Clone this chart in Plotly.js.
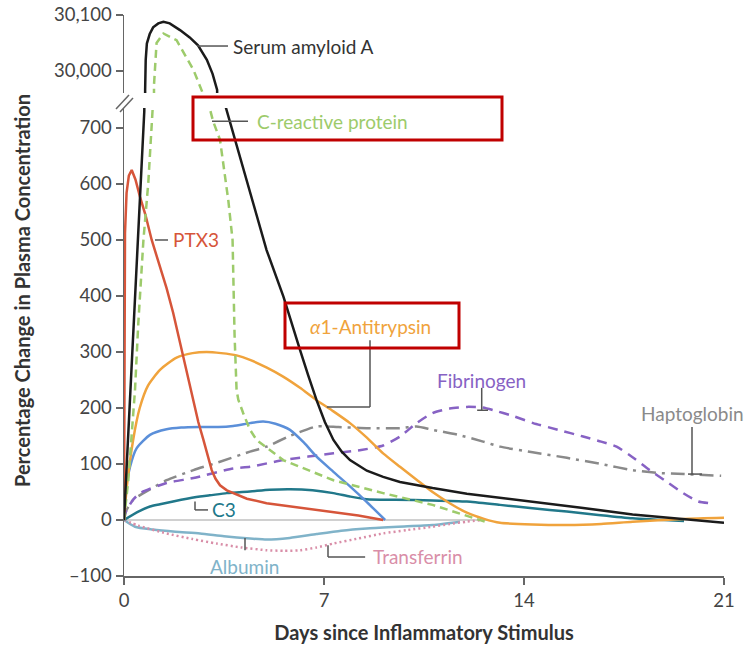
<!DOCTYPE html>
<html>
<head>
<meta charset="utf-8">
<script src="https://cdn.plot.ly/plotly-3.0.1.min.js"></script>
<style>html,body{margin:0;padding:0;background:#fff;}#chart{width:747px;height:649px;}</style>
</head>
<body>
<div id="chart"></div>
<script>
// ---- Data (days since stimulus, % change in plasma concentration) ----
var saaDays = [0,0.23,0.45,0.6,0.71,0.74,0.76,0.8,0.9,1.02,1.2,1.38,1.6,1.96,2.3,2.59,2.9,3.1,3.26,3.54,3.77,4.41,4.99,5.58,5.87,6.16,6.45,6.74,7.03,7.33,7.62,7.91,8.5,9.07,9.66,10.8,12,13.16,14.32,16,17.8,19.6,21];
var saaVals = [0,235,470,625,730,29966,30020,30049,30066,30078,30085,30088,30085,30073,30060,30046,30020,29995,29966,741,700,589,482,399,350,304,258,214,175,143,122,107,88,77,68,57,47,40,33,22,10,1,-5];

var crpDays = [0,0.15,0.385,0.5,0.68,0.85,1.0,1.05,1.14,1.38,1.84,2.43,2.65,2.8,2.95,3.12,3.36,3.65,3.8,3.87,3.94,4.0,4.17,4.4,4.64,5.57,7.33,9.07,10.8,12.7];
var crpVals = [0,71,232,351,500,602,732,29975,30050,30067,30055,30002,29975,29955,745,712,679,571,500,330,232,215,191,162,143,107,71,48,27,-4];

var ptxDays = [0,0.01,0.035,0.09,0.17,0.27,0.4,0.56,0.75,0.97,1.22,1.49,1.72,1.96,2.25,2.43,2.6,2.78,2.92,3.07,3.2,3.36,3.6,3.83,4.3,4.99,6.0,7.32,8.2,9.07];
var ptxVals = [0,300,512,584,615,625,608,577,545,500,458,414,370,318,250,212,175,143,115,89,74,62,53,48,38,30,23,15,8,0];

var ataDays = [0,0.1,0.32,0.55,0.84,1.26,1.84,2.4,2.89,3.4,3.94,4.41,5.0,5.57,6.16,6.74,7.33,7.91,8.5,9.07,9.66,10.24,10.8,11.4,12,12.6,13.16,14.3,15.5,16.7,17.8,19.6,21];
var ataVals = [0,60,143,200,240,268,290,298,300,298,294,286,272,256,236,214,194,173,147,119,95,72,50,30,13,2,-5,-8,-9,-7,-3,2,4];

var blueDays = [0,0.035,0.21,0.44,0.91,1.49,2.0,2.66,3.3,3.82,4.41,4.87,5.3,5.81,6.3,6.74,7.33,7.91,8.5,9.14];
var blueVals = [0,50,95,128,152,162,165,166,166,168,173,176,172,161,138,113,86,60,32,0];

var c3Days = [0,0.5,0.91,1.26,2.0,2.66,3.0,3.6,4.41,5.1,5.81,6.6,7.33,7.9,8.49,9.5,10.8,12,13.16,14.3,15.5,16.6,17.8,19.6];
var c3Vals = [0,15,24,28,36,42,44,48,51,54,55,53,48,42,37,36,35,33,27,21,15,9,3,-2];

var hapDays = [0,0.09,0.32,0.68,1.49,2.43,3.36,4.41,4.99,5.8,6.74,7.5,8.49,9.66,10.24,10.8,11.7,12.57,13.16,14.3,15.5,16.7,17.8,18.7,19.6,20.9];
var hapVals = [0,18,36,48,71,89,104,122,131,150,167,166,164,164,167,161,152,140,131,121,111,100,89,84,82,79];

var fibDays = [0,0.035,0.3,0.56,1.49,2.43,3.82,4.41,5.57,7.33,8.3,9.07,9.66,10.24,10.8,11.4,12,12.52,12.93,13.6,14.32,15.2,16.07,16.7,17.24,17.8,18.4,19.0,19.57,20.1,20.69];
var fibVals = [0,12,35,48,66,75,92,95,107,119,125,133,149,173,191,199,202,201,196,186,173,161,149,140,131,112,89,68,48,33,29];

var albDays = [0,0.385,1.0,1.8,2.66,3.5,4.41,5.0,5.8,6.74,7.6,8.49,9.6,10.8,11.76];
var albVals = [0,-12,-17,-21,-24,-29,-33,-35,-32,-25,-19,-15,-12,-9,-3];

var trfDays = [0,0.5,1.49,2.4,3.24,4.1,5.0,5.6,6.16,6.74,7.33,8.2,9.07,9.9,10.8,11.4,12,12.57];
var trfVals = [0,-10,-24,-34,-42,-49,-54,-55,-54,-49,-42,-33,-24,-18,-12,-7,-3,0];

var xTicks = [0,7,14,21];
var xTickText = ['0','7','14','21'];
var yLowTicks = [-100,0,100,200,300,400,500,600,700];
var yLowText = ['\u2013100','0','100','200','300','400','500','600','700'];
var yHighTicks = [30000,30100];
var yHighText = ['30,000','30,100'];

// ---- Styling ----
var FONT = 'Lato, "Open Sans", sans-serif';
var C = {
  saa:'#1b1b1b', crp:'#9dcb6b', ptx:'#d6553a', ata:'#f0a33c', blue:'#5b8fd9',
  c3:'#21788a', hap:'#8a8a8a', fib:'#8762c4', alb:'#80b3c9', trf:'#d98ea8'
};

function tr(x, y, color, dash, shape, yaxis){
  return {x:x, y:y, type:'scatter', mode:'lines', yaxis:yaxis||'y', showlegend:false, hoverinfo:'skip',
    line:{color:color, width:2.5, dash:dash||'solid', shape:shape||'linear', smoothing:0.6}};
}

var data = [
  tr(albDays, albVals, C.alb, 'solid', 'spline'),
  tr(trfDays, trfVals, C.trf, '2px,3px', 'spline'),
  tr(c3Days, c3Vals, C.c3, 'solid', 'spline'),
  tr(hapDays, hapVals, C.hap, '14px,6px,3px,6px', 'spline'),
  tr(fibDays, fibVals, C.fib, '10px,7px', 'spline'),
  tr(blueDays, blueVals, C.blue, 'solid', 'spline'),
  tr(ataDays, ataVals, C.ata, 'solid', 'spline'),
  tr(ptxDays, ptxVals, C.ptx, 'solid', 'linear'),
  tr(crpDays, crpVals, C.crp, '8px,5px', 'linear'),
  tr(crpDays, crpVals, C.crp, '8px,5px', 'linear', 'y2'),
  tr(saaDays, saaVals, C.saa, 'solid', 'linear'),
  tr(saaDays, saaVals, C.saa, 'solid', 'linear', 'y2')
];

// pixel helpers for paper-referenced decorations (plot area: x 124..724, y 15..576)
function px(p){ return (p-124)/600; }
function py(p){ return (576-p)/561; }

var LC = '#555';
function seg(x0,y0,x1,y1,yref){
  return {type:'line', xref:'x', yref:yref||'y', x0:x0, y0:y0, x1:x1, y1:y1, line:{color:LC, width:1.5}};
}

var shapes = [
  {type:'line', xref:'x', yref:'y', x0:0, x1:12.7, y0:0, y1:0, layer:'below', line:{color:'#d0d0d0', width:2}},
  // connectors
  seg(2.555,30044.6,3.64,30044.6,'y2'),
  seg(3.08,712,4.34,712),
  seg(1.085,500,1.54,500),
  seg(8.61,321,8.61,202), seg(7.1,202,8.61,202),
  seg(12.52,236,12.52,196), seg(12.36,196,12.74,196),
  seg(19.88,166,19.88,82), seg(19.74,82,20.23,82),
  seg(2.485,33,2.485,18), seg(2.485,18,2.94,18),
  seg(4.235,-32,4.235,-54),
  seg(7.14,-45,7.14,-66), seg(7.14,-66,8.44,-66),
  // red highlight boxes
  {type:'rect', xref:'paper', yref:'paper', x0:px(193), x1:px(502), y0:py(140), y1:py(97), line:{color:'#c00000', width:3}},
  {type:'rect', xref:'paper', yref:'paper', x0:px(285), x1:px(459), y0:py(348), y1:py(303), line:{color:'#c00000', width:3}},
  // axis break marks
  {type:'line', xref:'paper', yref:'paper', x0:px(116), y0:py(109), x1:px(129), y1:py(95), line:{color:'#666', width:1.5}},
  {type:'line', xref:'paper', yref:'paper', x0:px(120), y0:py(112), x1:px(133), y1:py(98), line:{color:'#666', width:1.5}}
];

function lab(text, x, y, color, anchor, yref){
  return {text:text, x:x, y:y, xref:'x', yref:yref||'y', showarrow:false, xanchor:anchor||'left', yanchor:'middle',
    font:{family:FONT, size:19, color:color}};
}

var annotations = [
  lab('Serum amyloid A', 3.74, 30044.6, '#333', 'left', 'y2'),
  lab('C-reactive protein', 4.57, 712, C.crp),
  lab('PTX3', 1.65, 500, C.ptx),
  lab('<i>\u03b1</i>1-Antitrypsin', 6.44, 345, C.ata),
  lab('Fibrinogen', 10.87, 250, C.fib),
  lab('Haptoglobin', 19.88, 191, C.hap, 'center'),
  lab('C3', 3.0, 18, C.c3),
  lab('Albumin', 2.94, -83, C.alb),
  lab('Transferrin', 8.65, -65, C.trf),
  {text:'<b>Percentage Change in Plasma Concentration</b>', xref:'paper', yref:'paper', x:px(22), y:py(291), textangle:-90,
   showarrow:false, xanchor:'center', yanchor:'middle', font:{family:FONT, size:20, color:'#333'}}
];

var axisCommon = {showgrid:false, zeroline:false, showline:true, linecolor:'#666', linewidth:1.5,
  ticks:'outside', ticklen:7, tickcolor:'#666', tickwidth:1.5, tickfont:{family:FONT, size:18.5, color:'#444'}};

var layout = {
  width:747, height:649,
  margin:{l:124, r:23, t:15, b:73},
  paper_bgcolor:'#fff', plot_bgcolor:'#fff',
  xaxis: Object.assign({}, axisCommon, {range:[0,21], tickmode:'array', tickvals:xTicks, ticktext:xTickText,
    anchor:'y', title:{text:'<b>Days since Inflammatory Stimulus</b>', font:{family:FONT, size:20, color:'#333'}, standoff:16}}),
  yaxis: Object.assign({}, axisCommon, {domain:[0,(576-108)/561], range:[-100,735.7], tickmode:'array',
    tickvals:yLowTicks, ticktext:yLowText, anchor:'x'}),
  yaxis2: Object.assign({}, axisCommon, {domain:[(576-93)/561,1], range:[29960.7,30100], tickmode:'array',
    tickvals:yHighTicks, ticktext:yHighText, anchor:'x'}),
  shapes:shapes,
  annotations:annotations,
  showlegend:false
};

Plotly.newPlot('chart', data, layout, {staticPlot:true, displayModeBar:false});
</script>
</body>
</html>
